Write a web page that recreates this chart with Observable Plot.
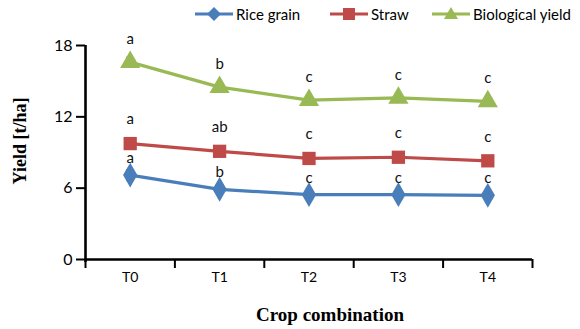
<!DOCTYPE html>
<html><head><meta charset="utf-8">
<script src="https://cdn.jsdelivr.net/npm/d3@7"></script>
<script src="https://cdn.jsdelivr.net/npm/@observablehq/plot@0.6"></script>
<style>
body{margin:0;background:#fff;}
#wrap{position:relative;width:580px;height:329px;overflow:hidden;font-family:Lato,"Open Sans",sans-serif;}
#legend{position:absolute;left:0;top:0;width:580px;height:28px;}
.lg{position:absolute;top:4px;display:flex;align-items:center;font-size:15px;color:#000;}
.lg svg{margin-right:3px;}
#chart{position:absolute;left:0;top:28px;}
#ylab{position:absolute;left:20px;top:141px;transform:translate(-50%,-50%) rotate(-90deg);font-family:"Liberation Serif","Times New Roman",serif;font-weight:bold;font-size:18px;white-space:nowrap;}
#xlab{position:absolute;left:330px;top:315px;transform:translate(-50%,-50%);font-family:"Liberation Serif","Times New Roman",serif;font-weight:bold;font-size:19px;white-space:nowrap;}
</style></head>
<body>
<div id="wrap">
<div id="legend"></div>
<div id="chart"></div>
<div id="ylab">Yield [t/ha]</div>
<div id="xlab">Crop combination</div>
</div>
<script>
const categories = ["T0", "T1", "T2", "T3", "T4"];
const seriesNames = ["Rice grain", "Straw", "Biological yield"];
const riceGrain = [7.1, 5.9, 5.45, 5.45, 5.4];
const straw = [9.75, 9.1, 8.5, 8.6, 8.3];
const biologicalYield = [16.6, 14.5, 13.4, 13.6, 13.3];
const riceGrainErr = [0.45, 0.2, 0.25, 0.2, 0.25];
const strawErr = [0.3, 0.2, 0.2, 0.2, 0.2];
const biologicalYieldErr = [0.4, 0.25, 0.35, 0.2, 0.2];
const riceGrainLetters = ["a", "b", "c", "c", "c"];
const strawLetters = ["a", "ab", "c", "c", "c"];
const biologicalYieldLetters = ["a", "b", "c", "c", "c"];
const yTicks = [0, 6, 12, 18];

const colors = {"Rice grain": "#4A7EBB", "Straw": "#BE4B48", "Biological yield": "#98B954"};
const symbols = {"Rice grain": "diamond", "Straw": "square", "Biological yield": "triangle"};
const radius = {"Rice grain": 7.5, "Straw": 7.5, "Biological yield": 7.5};
const letterDy = {"Rice grain": -17, "Straw": -24, "Biological yield": -23};

const valueSets = [riceGrain, straw, biologicalYield];
const errSets = [riceGrainErr, strawErr, biologicalYieldErr];
const letterSets = [riceGrainLetters, strawLetters, biologicalYieldLetters];

const rows = [];
seriesNames.forEach((s, k) => {
  categories.forEach((c, i) => {
    rows.push({series: s, cat: c, x: i + 0.5, value: valueSets[k][i], err: errSets[k][i], letter: letterSets[k][i]});
  });
});

const marks = [];
seriesNames.forEach(s => {
  const d = rows.filter(r => r.series === s);
  marks.push(Plot.line(d, {x: "x", y: "value", stroke: colors[s], strokeWidth: 3.2}));
});
marks.push(Plot.ruleX(rows, {x: "x", y1: d => d.value - d.err, y2: d => d.value + d.err, stroke: "#000", strokeWidth: 1.2}));
marks.push(Plot.ruleY(rows, {y: d => d.value - d.err, x1: d => d.x - 0.035, x2: d => d.x + 0.035, stroke: "#000", strokeWidth: 1.6}));
marks.push(Plot.ruleY(rows, {y: d => d.value + d.err, x1: d => d.x - 0.035, x2: d => d.x + 0.035, stroke: "#000", strokeWidth: 1.6}));
seriesNames.forEach(s => {
  const d = rows.filter(r => r.series === s);
  marks.push(Plot.dot(d, {x: "x", y: "value", symbol: () => symbols[s], fill: colors[s], stroke: "none", r: radius[s]}));
  marks.push(Plot.text(d, {x: "x", y: "value", text: "letter", dy: letterDy[s], fontSize: 15, fill: "#111"}));
});
marks.push(Plot.axisX({ticks: [0,1,2,3,4,5], tickSize: 9, tickFormat: () => "", strokeWidth: 2}));
marks.push(Plot.axisX({ticks: categories.map((c, i) => i + 0.5), tickSize: 0, tickPadding: 13, tickFormat: v => categories[Math.round(v - 0.5)], fontSize: 14, label: null}));
marks.push(Plot.axisY({ticks: yTicks, tickSize: 9, tickPadding: 4, fontSize: 16, label: null, strokeWidth: 2}));
marks.push(Plot.ruleX([0], {y1: -0.25, y2: 18, stroke: "#000", strokeWidth: 2.6}));
marks.push(Plot.ruleY([0], {stroke: "#000", strokeWidth: 2.6}));

const chart = Plot.plot({
  width: 580,
  height: 301,
  marginTop: 17,
  marginBottom: 70,
  marginLeft: 85,
  marginRight: 48,
  style: {fontFamily: "Lato, 'Open Sans', sans-serif", color: "#000", background: "transparent"},
  x: {type: "linear", domain: [0, 5], label: null},
  y: {domain: [0, 18], label: null},
  symbol: {type: "identity"},
  marks
});
document.getElementById("chart").appendChild(chart);

const legendPos = [195, 330, 432];
const legend = document.getElementById("legend");
seriesNames.forEach((s, k) => {
  const div = document.createElement("div");
  div.className = "lg";
  div.style.left = legendPos[k] + "px";
  const w = 38, h = 20, cx = w / 2, cy = h / 2;
  let shape;
  if (symbols[s] === "diamond") shape = `<path d="M${cx},${cy-7}L${cx+7},${cy}L${cx},${cy+7}L${cx-7},${cy}Z" fill="${colors[s]}"/>`;
  else if (symbols[s] === "square") shape = `<rect x="${cx-6}" y="${cy-6}" width="12" height="12" fill="${colors[s]}"/>`;
  else shape = `<path d="M${cx},${cy-7}L${cx+7},${cy+5}L${cx-7},${cy+5}Z" fill="${colors[s]}"/>`;
  div.innerHTML = `<svg width="${w}" height="${h}"><line x1="0" x2="${w}" y1="${cy}" y2="${cy}" stroke="${colors[s]}" stroke-width="3.2"/>${shape}</svg><span>${s}</span>`;
  legend.appendChild(div);
});
</script>
</body></html>
